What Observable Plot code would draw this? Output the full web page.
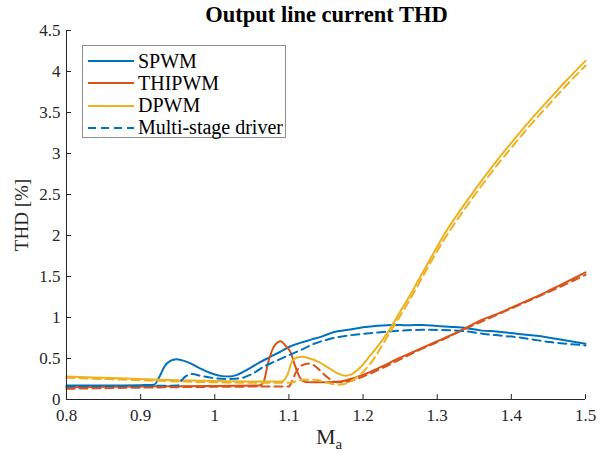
<!DOCTYPE html>
<html>
<head>
<meta charset="utf-8">
<script src="https://cdn.jsdelivr.net/npm/d3@7"></script>
<script src="https://cdn.jsdelivr.net/npm/@observablehq/plot@0.6"></script>
<style>
  html, body { margin: 0; padding: 0; background: #fff; }
  #wrap { position: relative; width: 612px; height: 456px; font-family: "Liberation Serif", "Times New Roman", serif; }
  #title { position: absolute; left: 0; width: 653px; top: 1px; text-align: center; font-weight: bold; font-size: 22.5px; line-height: 28px; color: #000; }
  #legend { position: absolute; left: 82px; top: 45px; width: 204px; height: 93px; border: 1px solid #8f8f8f; background: #fff; box-sizing: border-box; }
  .row { position: absolute; left: 4px; height: 22px; display: flex; align-items: center; font-size: 20px; color: #000; white-space: nowrap; }
  .row svg { margin-right: 3px; }
  #ylab { position: absolute; left: 22px; top: 215px; transform: translate(-50%, -50%) rotate(-90deg); font-size: 19px; color: #262626; white-space: nowrap; }
  #xlab { position: absolute; left: 316px; top: 424px; font-size: 22px; color: #262626; }
  #xlab sub { font-size: 15px; }
</style>
</head>
<body>
<div id="wrap">
  <div id="plot"></div>
  <div id="title">Output line current THD</div>
  <div id="ylab">THD [%]</div>
  <div id="xlab">M<sub>a</sub></div>
  <div id="legend"></div>
</div>
<script>
// ---- data ----
const spwmM   = [0.80,0.85,0.90,0.918,0.925,0.932,0.94,0.948,0.955,0.965,0.98,0.995,1.01,1.02,1.03,1.045,1.06,1.075,1.09,1.10,1.115,1.13,1.145,1.16,1.18,1.20,1.22,1.24,1.26,1.28,1.30,1.32,1.34,1.36,1.38,1.40,1.42,1.44,1.46,1.48,1.50];
const spwmTHD = [0.17,0.17,0.175,0.18,0.27,0.40,0.47,0.49,0.48,0.45,0.38,0.32,0.285,0.28,0.30,0.37,0.45,0.52,0.59,0.64,0.69,0.73,0.77,0.82,0.85,0.88,0.90,0.91,0.905,0.91,0.895,0.885,0.87,0.84,0.83,0.81,0.79,0.77,0.74,0.71,0.68];

const spwmMsM   = [0.80,0.90,0.95,0.955,0.962,0.97,0.98,1.00,1.02,1.035,1.05,1.066,1.08,1.10,1.12,1.134,1.156,1.18,1.20,1.224,1.25,1.28,1.318,1.34,1.363,1.385,1.408,1.43,1.453,1.475,1.50];
const spwmMsTHD = [0.16,0.165,0.17,0.23,0.29,0.31,0.29,0.26,0.25,0.26,0.31,0.40,0.46,0.54,0.62,0.68,0.74,0.78,0.80,0.82,0.84,0.85,0.845,0.83,0.80,0.78,0.76,0.73,0.70,0.68,0.66];

const thiM   = [0.80,0.90,1.00,1.06,1.066,1.072,1.08,1.089,1.095,1.102,1.108,1.113,1.118,1.125,1.15,1.17,1.19,1.20,1.225,1.25,1.275,1.30,1.32,1.34,1.36,1.385,1.40,1.42,1.44,1.46,1.48,1.50];
const thiTHD = [0.15,0.16,0.165,0.17,0.22,0.45,0.65,0.71,0.66,0.58,0.42,0.30,0.23,0.21,0.21,0.22,0.27,0.30,0.40,0.51,0.61,0.71,0.79,0.88,0.97,1.06,1.12,1.20,1.28,1.37,1.46,1.55];

const thiMsM   = [0.80,0.90,1.00,1.10,1.104,1.11,1.118,1.128,1.14,1.152,1.165,1.18,1.20,1.225,1.25,1.275,1.30,1.34,1.385,1.42,1.46,1.50];
const thiMsTHD = [0.13,0.145,0.155,0.16,0.22,0.34,0.42,0.44,0.37,0.27,0.21,0.22,0.28,0.38,0.49,0.60,0.70,0.87,1.05,1.19,1.35,1.52];

const dpwmM   = [0.80,0.85,0.90,0.95,1.00,1.05,1.09,1.098,1.104,1.11,1.118,1.128,1.14,1.156,1.168,1.176,1.185,1.195,1.21,1.224,1.239,1.25,1.262,1.275,1.291,1.31,1.336,1.36,1.381,1.40,1.426,1.45,1.471,1.50];
const dpwmTHD = [0.28,0.265,0.25,0.235,0.225,0.22,0.22,0.30,0.46,0.51,0.52,0.50,0.46,0.37,0.31,0.29,0.31,0.38,0.54,0.70,0.90,1.07,1.25,1.46,1.72,2.02,2.37,2.67,2.92,3.13,3.41,3.65,3.86,4.13];

const dpwmMsM   = [0.80,0.85,0.90,0.95,1.00,1.05,1.10,1.12,1.135,1.15,1.165,1.175,1.19,1.21,1.235,1.25,1.262,1.275,1.291,1.31,1.336,1.36,1.381,1.40,1.426,1.45,1.471,1.50];
const dpwmMsTHD = [0.265,0.25,0.235,0.22,0.21,0.205,0.205,0.24,0.24,0.21,0.18,0.19,0.26,0.44,0.80,1.02,1.20,1.41,1.67,1.96,2.31,2.61,2.86,3.07,3.35,3.59,3.80,4.07];

const xTicks = [0.8,0.9,1.0,1.1,1.2,1.3,1.4,1.5];
const yTicks = [0,0.5,1,1.5,2,2.5,3,3.5,4,4.5];
const legendLabels = ["SPWM","THIPWM","DPWM","Multi-stage driver"];

const colBlue = "#0072BD", colRed = "#D95319", colYel = "#EDB120";

const toRows = (xs, ys) => xs.map((m, i) => ({m, v: ys[i]}));
const series = [
  {data: toRows(spwmM, spwmTHD), color: colBlue, dash: null},
  {data: toRows(thiM, thiTHD), color: colRed, dash: null},
  {data: toRows(dpwmM, dpwmTHD), color: colYel, dash: null},
  {data: toRows(spwmMsM, spwmMsTHD), color: colBlue, dash: "8,5"},
  {data: toRows(thiMsM, thiMsTHD), color: colRed, dash: "8,5"},
  {data: toRows(dpwmMsM, dpwmMsTHD), color: colYel, dash: "8,5"}
];

const fmt = d => String(+d.toFixed(2));

const chart = Plot.plot({
  width: 612,
  height: 456,
  marginLeft: 66,
  marginRight: 27,
  marginTop: 30,
  marginBottom: 57,
  style: {fontFamily: "'Liberation Serif', 'Times New Roman', serif", fontSize: "17px", color: "#262626", background: "#fff"},
  x: {domain: [0.8, 1.5]},
  y: {domain: [0, 4.5]},
  marks: [
    ...series.map(s => Plot.line(s.data, {x: "m", y: "v", stroke: s.color, strokeWidth: 2, strokeDasharray: s.dash, curve: "monotone-x"})),
    Plot.ruleY([0], {stroke: "#262626", strokeWidth: 1}),
    Plot.ruleX([0.8], {stroke: "#262626", strokeWidth: 1}),
    Plot.axisX(xTicks, {tickSize: -5, tickPadding: 14, tickFormat: fmt, label: null, stroke: "#262626", fill: "#262626"}),
    Plot.axisY(yTicks, {tickSize: -5, tickPadding: 11, tickFormat: fmt, label: null, stroke: "#262626", fill: "#262626"})
  ]
});
document.getElementById("plot").appendChild(chart);

// legend
const legend = document.getElementById("legend");
const legendStyles = [[colBlue, null],[colRed, null],[colYel, null],[colBlue, "8,5"]];
legendLabels.forEach((lab, i) => {
  const row = document.createElement("div");
  row.className = "row";
  row.style.top = (4 + i * 22.3) + "px";
  const [c, dash] = legendStyles[i];
  row.innerHTML = `<svg width="48" height="10"><line x1="1" y1="5" x2="47" y2="5" stroke="${c}" stroke-width="2" ${dash ? `stroke-dasharray="${dash}"` : ""}/></svg><span>${lab}</span>`;
  legend.appendChild(row);
});
</script>
</body>
</html>
